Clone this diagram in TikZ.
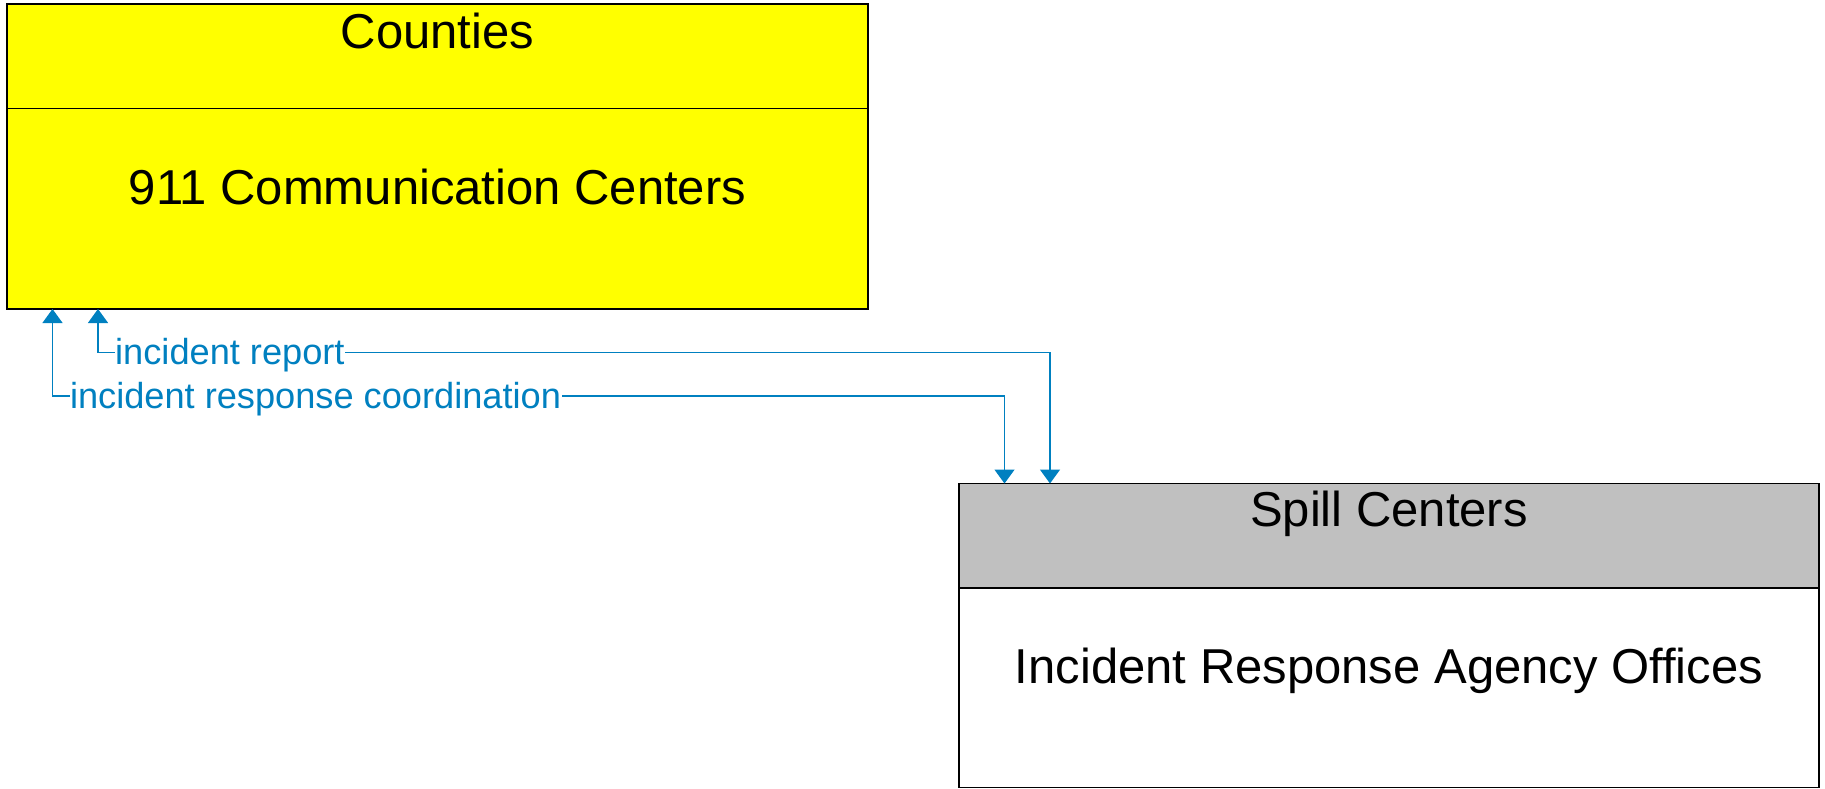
\documentclass[tikz,border=0pt]{standalone}
\usepackage{fontspec}
\setmainfont{Liberation Sans}
\usetikzlibrary{arrows.meta}
\definecolor{flow}{RGB}{0,128,192}
\definecolor{hdrgray}{RGB}{192,192,192}
\definecolor{boxyellow}{RGB}{255,255,0}

\begin{document}
\begin{tikzpicture}[x=1pt,y=-1pt,
  box/.style={draw=black, line width=1.3pt, rectangle, inner sep=0pt, outer sep=0pt, anchor=north west},
  header/.style={path picture={\fill[#1] (path picture bounding box.north west) rectangle ([yshift=-104.5pt]path picture bounding box.north east);}},
  divider/.style={draw=black, line width=1.3pt},
  title/.style={font=\fontsize{49}{58}\selectfont, anchor=base, inner sep=0pt},
  conn/.style={draw=flow, line width=1.4pt, {Triangle[width=20pt,length=14pt]}-{Triangle[width=20pt,length=14pt]}},
  lbl/.style={font=\fontsize{36.2}{43}\selectfont, text=flow, fill=white, inner xsep=0.5pt, inner ysep=1pt, anchor=base west}]
\useasboundingbox (0,0) rectangle (1825,788);

% Counties / 911 Communication Centers
\node[box, fill=boxyellow, minimum width=861pt, minimum height=305pt] (cty) at (7,4) {};
\draw[divider] ([yshift=-104.5pt]cty.north west) -- ([yshift=-104.5pt]cty.north east);
\node[title] (ctyhead) at ([yshift=-44pt]cty.north) {Counties};
\node[title] (ctybody) at ([yshift=-200pt]cty.north) {911 Communication Centers};

% Spill Centers / Incident Response Agency Offices
\node[box, fill=white, header=hdrgray, minimum width=860pt, minimum height=304pt] (spl) at (959,483.5) {};
\draw[divider] ([yshift=-104.5pt]spl.north west) -- ([yshift=-104.5pt]spl.north east);
\node[title] (splhead) at ([yshift=-43pt]spl.north) {Spill Centers};
\node[title] (splbody) at ([yshift=-199.5pt]spl.north) {Incident Response Agency Offices};

% information flows
\draw[conn] ([xshift=91pt]cty.south west) -- ++(0,43.5)
  node[lbl, xshift=16pt, yshift=-12pt] (rptlbl) {incident report}
  -| ([xshift=91pt]spl.north west);
\draw[conn] ([xshift=45.5pt]cty.south west) -- ++(0,87)
  node[lbl, xshift=16.3pt, yshift=-12pt] (coordlbl) {incident response coordination}
  -| ([xshift=45.5pt]spl.north west);
\end{tikzpicture}
\end{document}
